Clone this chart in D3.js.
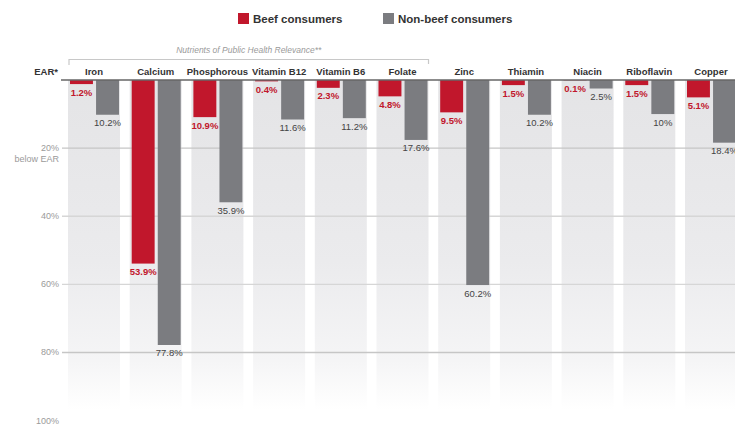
<!DOCTYPE html>
<html><head><meta charset="utf-8">
<script src="https://cdn.jsdelivr.net/npm/d3@7"></script>
<style>body{margin:0;background:#fff}svg{display:block;font-family:"Liberation Sans",Arial,sans-serif}</style>
</head><body><svg id="c" width="735" height="424"></svg>
<script>
const categories = ["Iron","Calcium","Phosphorous","Vitamin B12","Vitamin B6","Folate","Zinc","Thiamin","Niacin","Riboflavin","Copper"];
const beefValues = [1.2,53.9,10.9,0.4,2.3,4.8,9.5,1.5,0.1,1.5,5.1];
const nonBeefValues = [10.2,77.8,35.9,11.6,11.2,17.6,60.2,10.2,2.5,10,18.4];
const nonBeefLabels = ["10.2%","77.8%","35.9%","11.6%","11.2%","17.6%","60.2%","10.2%","2.5%","10%","18.4%"];
const seriesNames = ["Beef consumers","Non-beef consumers"];
const seriesColors = ["#c1172c","#7b7c80"];
const yTicks = [20,40,60,80,100];
const publicHealthGroup = ["Iron","Calcium","Phosphorous","Vitamin B12","Vitamin B6","Folate"];

const svg = d3.select("#c");
const y = d3.scaleLinear().domain([0,100]).range([80,420.6]);
const x = d3.scaleBand().domain(categories).range([68,737]).paddingInner(0.157).paddingOuter(0);
const xs = d3.scaleBand().domain(seriesNames).range([2,51]).paddingInner(0.12);

const defs = svg.append("defs");
const g = defs.append("linearGradient").attr("id","colbg").attr("gradientUnits","userSpaceOnUse")
  .attr("x1",0).attr("x2",0).attr("y1",y(0)).attr("y2",410);
g.append("stop").attr("offset",0).attr("stop-color","#e4e4e6");
g.append("stop").attr("offset",0.55).attr("stop-color","#ebebed");
g.append("stop").attr("offset",0.85).attr("stop-color","#f5f5f6");
g.append("stop").attr("offset",1).attr("stop-color","#ffffff");

// column backgrounds
svg.append("g").selectAll("rect").data(categories).join("rect")
  .attr("x",d=>x(d)).attr("width",x.bandwidth())
  .attr("y",y(0)).attr("height",410-y(0)).attr("fill","url(#colbg)");

// gridlines
svg.append("g").selectAll("line").data(yTicks.filter(t=>t<100)).join("line")
  .attr("x1",62).attr("x2",735).attr("y1",d=>y(d)).attr("y2",d=>y(d))
  .attr("stroke",d=>d===20||d===80?"#c6c6c6":"#d6d6d6").attr("stroke-width",1.3);

// tick labels
const tl = svg.append("g").attr("font-size",9).attr("fill","#9a9a9a").attr("text-anchor","end");
tl.selectAll("text").data(yTicks).join("text")
  .attr("x",59).attr("y",d=>y(d)+3).text(d=>d+"%");
tl.append("text").attr("x",59).attr("y",y(20)+14).text("below EAR");

// bars
const rows = categories.map((c,i)=>({c,i,vals:[beefValues[i],nonBeefValues[i]]}));
const bars = svg.append("g");
rows.forEach(r=>{
  r.vals.forEach((v,k)=>{
    const s = seriesNames[k];
    bars.append("rect").attr("x",x(r.c)+xs(s)).attr("width",xs.bandwidth())
      .attr("y",y(0)).attr("height",y(v)-y(0)).attr("fill",seriesColors[k]);
    const t = bars.append("text").attr("x",x(r.c)+xs(s)+xs.bandwidth()/2)
      .attr("y",y(v)+11.5).attr("text-anchor","middle");
    if(k===0) t.attr("font-size",9.5).attr("font-weight","bold").attr("fill","#c1172c").text(v+"%");
    else t.attr("font-size",9.5).attr("fill","#444").text(nonBeefLabels[r.i]);
  });
});

// EAR line
svg.append("line").attr("x1",61).attr("x2",735).attr("y1",y(0)).attr("y2",y(0))
  .attr("stroke","#666").attr("stroke-width",1.5);
svg.append("text").attr("x",58).attr("y",75).attr("text-anchor","end")
  .attr("font-size",9.5).attr("font-weight","bold").attr("fill","#333").text("EAR*");

// category labels
svg.append("g").selectAll("text").data(categories).join("text")
  .attr("x",d=>x(d)+x.bandwidth()/2).attr("y",75).attr("text-anchor","middle")
  .attr("font-size",9.5).attr("font-weight","bold").attr("fill","#333").text(d=>d);

// bracket
const bx0 = x(publicHealthGroup[0])+1, bx1 = x(publicHealthGroup[publicHealthGroup.length-1])+x.bandwidth();
svg.append("path").attr("d",`M${bx0},65V59.5H${bx1}V64`).attr("fill","none")
  .attr("stroke","#c8c8c8").attr("stroke-width",1.2);
svg.append("text").attr("x",(bx0+bx1)/2).attr("y",53).attr("text-anchor","middle")
  .attr("font-size",8.5).attr("font-style","italic").attr("fill","#9a9a9a")
  .text("Nutrients of Public Health Relevance**");

// legend
const leg = svg.append("g");
const legX = [238,383];
seriesNames.forEach((s,k)=>{
  leg.append("rect").attr("x",legX[k]).attr("y",13).attr("width",11).attr("height",11).attr("fill",seriesColors[k]);
  leg.append("text").attr("x",legX[k]+15).attr("y",23).attr("font-size",11.5).attr("font-weight","bold")
    .attr("fill","#333").text(s);
});
</script></body></html>
